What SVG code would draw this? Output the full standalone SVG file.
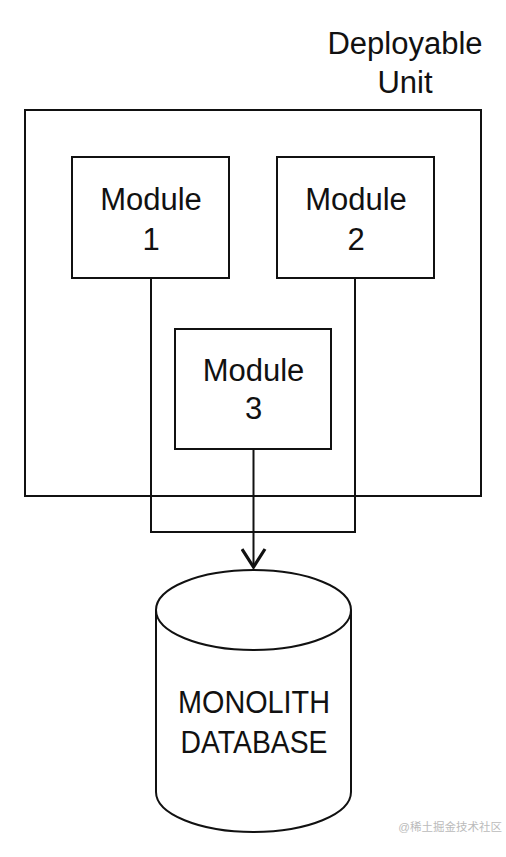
<svg xmlns="http://www.w3.org/2000/svg" width="506" height="857" viewBox="0 0 506 857">
<style>
.box{fill:#fff;stroke:#111;stroke-width:2}
.t{font-family:"Liberation Sans",Arial,sans-serif;font-size:31px;fill:#111;text-anchor:middle}
.c{fill:none;stroke:#111;stroke-width:2}
.wm{font-family:"Liberation Sans","Noto Sans CJK SC",sans-serif;font-size:11.5px;fill:#bbb;text-anchor:end}
</style>
<defs>
<marker id="arr" markerUnits="userSpaceOnUse" markerWidth="26" markerHeight="26" refX="20" refY="13" orient="auto" viewBox="0 0 26 26">
<path d="M2,1.5 L20,13 L2,24.5" fill="none" stroke="#111" stroke-width="3.2"/>
</marker>
</defs>
<rect width="506" height="857" fill="#fff"/>
<g id="unit">
<rect class="box" x="25" y="110" width="456" height="386"/>
<text class="t" x="405" y="54">Deployable</text>
<text class="t" x="405" y="93">Unit</text>
</g>
<g id="connectors">
<polyline class="c" points="151,278 151,532 355,532 355,278"/>
<line class="c" x1="253.5" y1="449" x2="253.5" y2="567" marker-end="url(#arr)"/>
</g>
<g id="module1">
<rect class="box" x="72" y="157" width="157" height="121"/>
<text class="t" x="151" y="210">Module</text>
<text class="t" x="151" y="250">1</text>
</g>
<g id="module2">
<rect class="box" x="277" y="157" width="157" height="121"/>
<text class="t" x="356" y="210">Module</text>
<text class="t" x="356" y="250">2</text>
</g>
<g id="module3">
<rect class="box" x="175" y="329" width="156" height="120"/>
<text class="t" x="253.5" y="381">Module</text>
<text class="t" x="253.5" y="419">3</text>
</g>
<g id="database">
<path class="box" d="M156,610 L156,792 A97.5,40 0 0 0 351,792 L351,610 A97.5,40 0 0 0 156,610 Z"/>
<path class="c" d="M156,610 A97.5,40 0 0 0 351,610"/>
<text class="t" x="254" y="713" textLength="152" lengthAdjust="spacingAndGlyphs">MONOLITH</text>
<text class="t" x="254" y="753" textLength="147" lengthAdjust="spacingAndGlyphs">DATABASE</text>
</g>
<text class="wm" x="502" y="831">@稀土掘金技术社区</text>
</svg>
